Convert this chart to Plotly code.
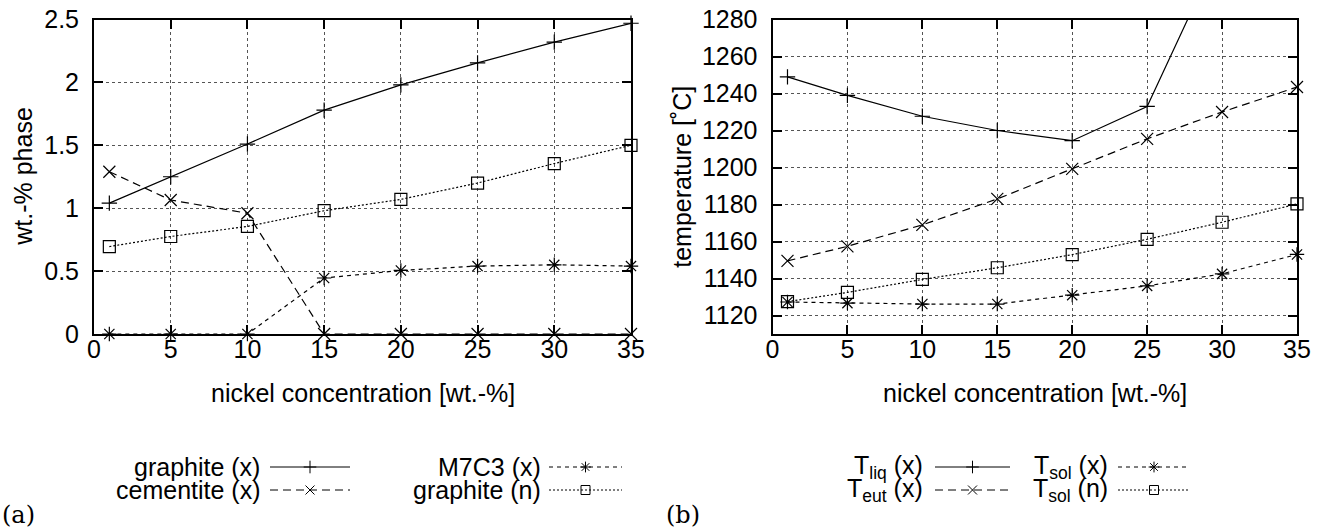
import plotly.graph_objects as go

W, H = 1328, 532

# ---------------- data ----------------
nickel = [1, 5, 10, 15, 20, 25, 30, 35]
x_ticks = [0, 5, 10, 15, 20, 25, 30, 35]

# (a) wt.-% phase
graphite_x = [1.04, 1.25, 1.51, 1.78, 1.98, 2.155, 2.32, 2.47]
cementite_x = [1.29, 1.065, 0.96, 0.0, 0.0, 0.0, 0.0, 0.0]
m7c3_x = [0.0, 0.0, 0.0, 0.445, 0.505, 0.54, 0.55, 0.54]
graphite_n = [0.695, 0.775, 0.855, 0.98, 1.07, 1.20, 1.355, 1.50]

# (b) temperature [˚C]
t_liq_x = [1249, 1239, 1227.7, 1220, 1214.5, 1233, 1320, 1400]
t_eut_x = [1149.5, 1157.4, 1169, 1183, 1199.3, 1215.5, 1230, 1243.5]
t_sol_x = [1127.3, 1126.7, 1126.2, 1126.2, 1131, 1136, 1142.5, 1153]
t_sol_n = [1127.5, 1132.5, 1139.5, 1145.8, 1152.9, 1161.2, 1170.4, 1180.3]

# ---------------- styles ----------------
FONT = "Liberation Sans"
FS = 25
BLACK = "#000000"
DASH_LONG = "8px,5px"
DASH_SHORT = "4px,4px"
DASH_DOT = "2px,2px"

styles = {
    "plus": dict(symbol="cross-thin", size=11),
    "x": dict(symbol="x-thin", size=12),
    "star": dict(symbol="asterisk", size=12),
    "square": dict(symbol="square-open", size=12),
}

# pixel layout
A_X0, A_X1 = 94, 631
B_X0, B_X1 = 772.5, 1297
Y_TOP, Y_BOT = 19.5, 334
KEY_TOP = 440  # top of the key strip (pixels)


def px(x):
    return x / W


def py(y):
    return 1 - y / H


fig = go.Figure()


def add_series(x, y, name, dash, mk, xa, ya, clip=False):
    fig.add_trace(go.Scatter(
        x=x, y=y, name=name, mode="lines+markers",
        line=dict(color=BLACK, width=1.2, dash=dash),
        marker=dict(symbol=styles[mk]["symbol"], size=styles[mk]["size"],
                    color=BLACK, line=dict(color=BLACK, width=1.2)),
        xaxis=xa, yaxis=ya, cliponaxis=clip, showlegend=False,
    ))


add_series(nickel, graphite_x, "graphite (x)", "solid", "plus", "x", "y")
add_series(nickel, cementite_x, "cementite (x)", DASH_LONG, "x", "x", "y")
add_series(nickel, m7c3_x, "M7C3 (x)", DASH_SHORT, "star", "x", "y")
add_series(nickel, graphite_n, "graphite (n)", DASH_DOT, "square", "x", "y")

add_series(nickel, t_liq_x, "T_liq (x)", "solid", "plus", "x2", "y2", clip=True)
add_series(nickel, t_eut_x, "T_eut (x)", DASH_LONG, "x", "x2", "y2")
add_series(nickel, t_sol_x, "T_sol (x)", DASH_SHORT, "star", "x2", "y2")
add_series(nickel, t_sol_n, "T_sol (n)", DASH_DOT, "square", "x2", "y2")

# ---------------- custom gnuplot-style keys ----------------
ROW1, ROW2 = 467, 490
legend_entries = [
    # text, text right edge, line start, line end, row, dash, marker
    ("graphite (x)", 262, 270, 350, ROW1, "solid", "plus"),
    ("cementite (x)", 262, 270, 350, ROW2, DASH_LONG, "x"),
    ("M7C3 (x)", 543, 549, 622, ROW1, DASH_SHORT, "star"),
    ("graphite (n)", 543, 549, 622, ROW2, DASH_DOT, "square"),
    ("T<sub>liq</sub> (x)", 925, 935, 1010, ROW1, "solid", "plus"),
    ("T<sub>eut</sub> (x)", 925, 935, 1010, ROW2, DASH_LONG, "x"),
    ("T<sub>sol</sub> (x)", 1110, 1118, 1190, ROW1, DASH_SHORT, "star"),
    ("T<sub>sol</sub> (n)", 1110, 1118, 1190, ROW2, DASH_DOT, "square"),
]

annotations = []
for text, tr, l0, l1, row, dash, mk in legend_entries:
    fig.add_trace(go.Scatter(
        x=[l0, l1], y=[row, row], mode="lines",
        line=dict(color=BLACK, width=1, dash=dash),
        xaxis="x3", yaxis="y3", showlegend=False, hoverinfo="skip",
        cliponaxis=False,
    ))
    fig.add_trace(go.Scatter(
        x=[(l0 + l1) / 2], y=[row], mode="markers",
        marker=dict(symbol=styles[mk]["symbol"], size=9, color=BLACK,
                    line=dict(color=BLACK, width=1)),
        xaxis="x3", yaxis="y3", showlegend=False, hoverinfo="skip",
        cliponaxis=False,
    ))
    annotations.append(dict(
        text=text, x=px(tr), y=py(row), xref="paper", yref="paper",
        xanchor="right", yanchor="middle", showarrow=False,
        font=dict(family=FONT, size=FS, color=BLACK),
    ))

# axis titles
annotations += [
    dict(text="nickel concentration [wt.-%]", x=px((A_X0 + A_X1) / 2), y=py(393),
         xref="paper", yref="paper", xanchor="center", yanchor="middle",
         showarrow=False, font=dict(family=FONT, size=FS, color=BLACK)),
    dict(text="nickel concentration [wt.-%]", x=px((B_X0 + B_X1) / 2), y=py(393),
         xref="paper", yref="paper", xanchor="center", yanchor="middle",
         showarrow=False, font=dict(family=FONT, size=FS, color=BLACK)),
    dict(text="wt.-% phase", x=px(23), y=py((Y_TOP + Y_BOT) / 2), textangle=-90,
         xref="paper", yref="paper", xanchor="center", yanchor="middle",
         showarrow=False, font=dict(family=FONT, size=FS, color=BLACK)),
    dict(text="temperature [˚C]", x=px(682), y=py((Y_TOP + Y_BOT) / 2), textangle=-90,
         xref="paper", yref="paper", xanchor="center", yanchor="middle",
         showarrow=False, font=dict(family=FONT, size=FS, color=BLACK)),
    dict(text="(a)", x=px(0), y=py(515), xref="paper", yref="paper",
         xanchor="left", yanchor="middle", showarrow=False,
         font=dict(family="DejaVu Serif", size=24, color=BLACK)),
    dict(text="(b)", x=px(664), y=py(515), xref="paper", yref="paper",
         xanchor="left", yanchor="middle", showarrow=False,
         font=dict(family="DejaVu Serif", size=24, color=BLACK)),
]

axis_common = dict(
    showline=True, linecolor=BLACK, linewidth=2, mirror="allticks",
    ticks="inside", ticklen=9, tickwidth=2, tickcolor=BLACK,
    showgrid=True, gridcolor="#555555", gridwidth=1, griddash="dot",
    zeroline=False, tickfont=dict(family=FONT, size=FS, color=BLACK),
    fixedrange=True, automargin=False,
)

fig.update_layout(
    width=W, height=H, autosize=False,
    margin=dict(l=0, r=0, t=0, b=0, pad=0, autoexpand=False),
    paper_bgcolor="white", plot_bgcolor="white",
    showlegend=False,
    annotations=annotations,
    xaxis=dict(domain=[px(A_X0), px(A_X1)], range=[0, 35], tickvals=x_ticks,
               anchor="y", ticklabelstandoff=-8, **axis_common),
    yaxis=dict(domain=[py(Y_BOT), py(Y_TOP)], range=[0, 2.5], dtick=0.5,
               anchor="x", ticklabelstandoff=8, **axis_common),
    xaxis2=dict(domain=[px(B_X0), px(B_X1)], range=[0, 35], tickvals=x_ticks,
                anchor="y2", ticklabelstandoff=-8, **axis_common),
    yaxis2=dict(domain=[py(Y_BOT), py(Y_TOP)], range=[1110, 1280], dtick=20,
                tick0=1120, anchor="x2", ticklabelstandoff=8, **axis_common),
    xaxis3=dict(domain=[0, 1], range=[0, W], visible=False, anchor="y3",
                fixedrange=True),
    yaxis3=dict(domain=[0, py(KEY_TOP)], range=[H, KEY_TOP], visible=False,
                anchor="x3", fixedrange=True),
)

fig.write_html("out.html")
